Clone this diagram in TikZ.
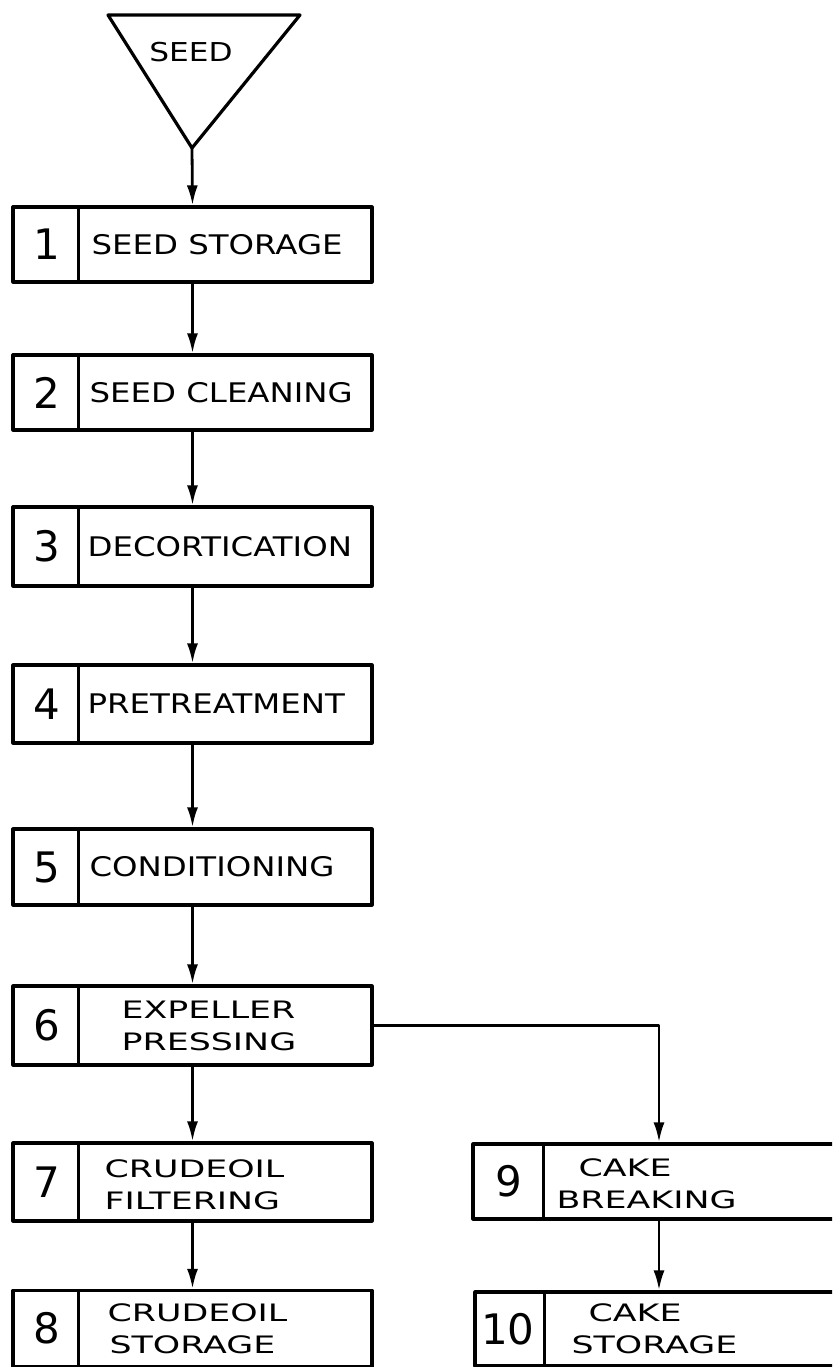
\documentclass[tikz,border=0pt]{standalone}
\usepackage{fontspec}
\setmainfont{DejaVu Sans}
\newfontfamily\handA[FakeStretch=1.2]{DejaVu Sans}
\newfontfamily\handB[FakeStretch=1.45]{DejaVu Sans}
\newfontfamily\handC[FakeStretch=1.2]{DejaVu Sans}
\usetikzlibrary{arrows.meta}
\begin{document}
\begin{tikzpicture}[x=1pt,y=-1pt,
  line width=3.2pt, line join=round,
  box/.style={draw, rectangle, inner sep=0pt, minimum width=#1},
  box/.default=359pt,
  num/.style={font=\fontsize{42}{44}\selectfont, inner sep=0pt},
  lab/.style={font=\handA\fontsize{27}{30}\selectfont, inner sep=0pt, anchor=west},
  lab2/.style={font=\handB\fontsize{24}{32}\selectfont, inner sep=0pt, anchor=west, align=left},
  arr/.style={-{Latex[length=20pt,width=11pt]}, line width=2.8pt}]
\clip (0,0) rectangle (832,1367);
\fill[white] (0,0) rectangle (832,1367);
% source triangle
\draw (108,15) -- (300,15) -- (192,148) -- cycle;
\coordinate (apex) at (192,148);
\node[font=\handC\fontsize{26}{28}\selectfont, inner sep=0pt] (seed) at (191,52) {SEED};
% boxes
\node[box, minimum height=75pt] (b1) at (192.5,244.5) {};
\node[box, minimum height=75pt] (b2) at (192.5,392.5) {};
\node[box, minimum height=79pt] (b3) at (192.5,546.5) {};
\node[box, minimum height=78pt] (b4) at (192.5,704) {};
\node[box, minimum height=76pt] (b5) at (192.5,867) {};
\node[box, minimum height=79pt] (b6) at (192.5,1025.5) {};
\node[box, minimum height=78pt] (b7) at (192.5,1182) {};
\node[box, minimum height=76pt] (b8) at (192.5,1328.5) {};
\node[box=372pt, minimum height=75pt] (b9) at (659,1181.5) {};
\node[box=368pt, minimum height=74pt] (b10) at (659,1329) {};
% dividers
\foreach \b in {b1,b2,b3,b4,b5,b6,b7,b8}
  \draw ([xshift=67pt]\b.north west) -- ([xshift=67pt]\b.south west);
\draw ([xshift=72pt]b9.north west) -- ([xshift=72pt]b9.south west);
\draw ([xshift=71pt]b10.north west) -- ([xshift=71pt]b10.south west);
% numbers
\node[num] (n1) at (46.5,244.5) {1};
\node[num] (n2) at (46.5,392.5) {2};
\node[num] (n3) at (46.5,546.5) {3};
\node[num] (n4) at (46.5,704) {4};
\node[num] (n5) at (46.5,867) {5};
\node[num] (n6) at (46.5,1025.5) {6};
\node[num] (n7) at (46.5,1182) {7};
\node[num] (n8) at (46.5,1328.5) {8};
\node[num] (n9) at (509,1181.5) {9};
\node[num] (n10) at (508,1329) {10};
% labels
\node[lab] (l1) at (90,244.5) {SEED STORAGE};
\node[lab] (l2) at (88,392.5) {SEED CLEANING};
\node[lab] (l3) at (86,546.5) {DECORTICATION};
\node[lab] (l4) at (86,704) {PRETREATMENT};
\node[lab] (l5) at (88,867) {CONDITIONING};
\node[lab2] (l6) at (120,1026) {EXPELLER\\PRESSING};
\node[lab2] (l7) at (103,1185) {CRUDEOIL\\FILTERING};
\node[lab2] (l8) at (106,1329) {CRUDEOIL\\\hspace*{2pt}STORAGE};
\node[lab2] (l9) at (555,1184) {\hspace*{22pt}CAKE\\BREAKING};
\node[lab2] (l10) at (570,1329) {\hspace*{17pt}CAKE\\STORAGE};
% connectors
\draw[arr] (apex) -- (b1.north);
\draw[arr] (b1) -- (b2);
\draw[arr] (b2) -- (b3);
\draw[arr] (b3) -- (b4);
\draw[arr] (b4) -- (b5);
\draw[arr] (b5) -- (b6);
\draw[arr] (b6) -- (b7);
\draw[arr] (b7) -- (b8);
\draw[arr] (b6.east) -| (b9.north);
\draw[arr] (b9) -- (b10);
\end{tikzpicture}
\end{document}
